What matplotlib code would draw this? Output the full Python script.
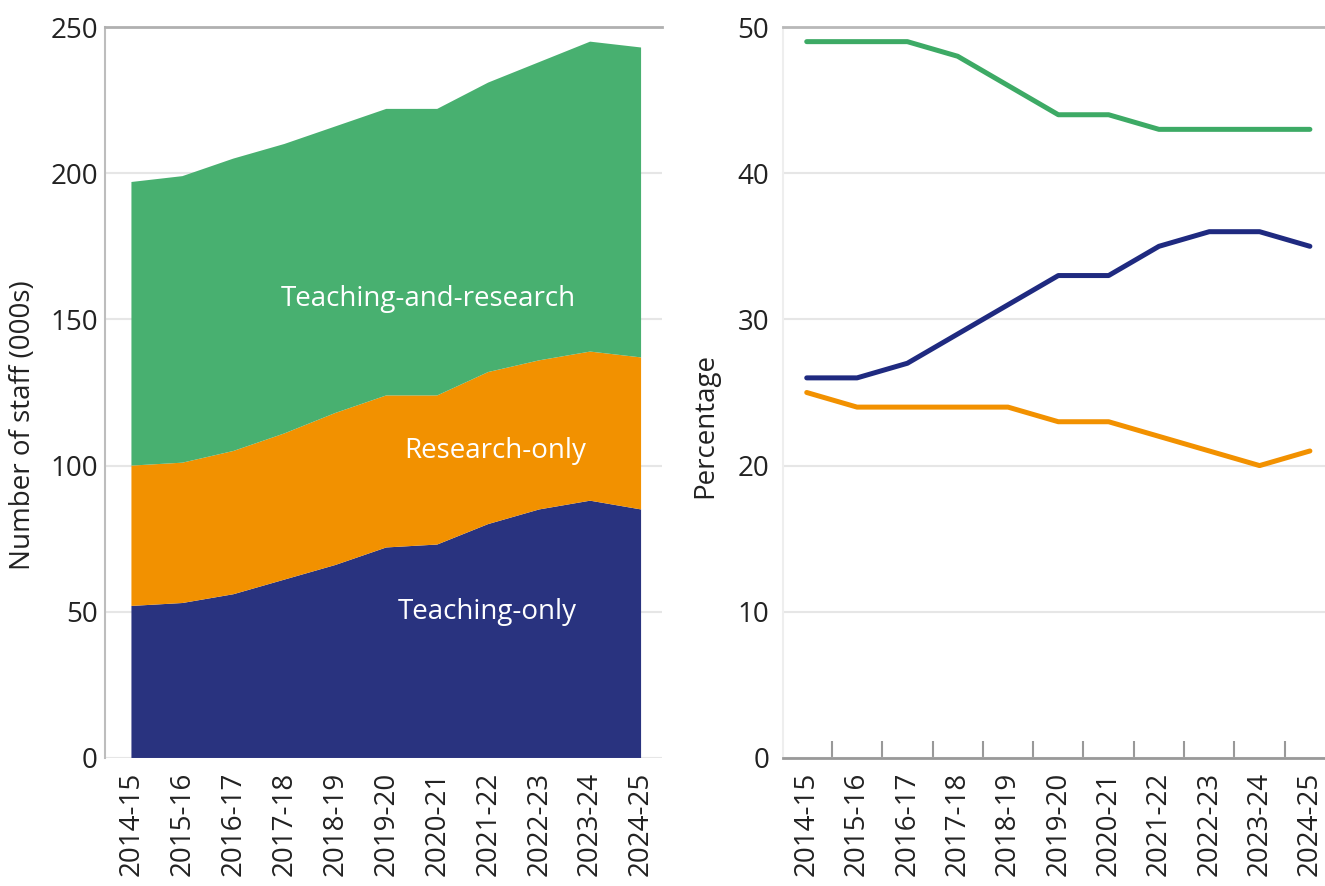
import matplotlib
matplotlib.use("Agg")
import matplotlib.pyplot as plt
import numpy as np

# years
years = ["2014-15", "2015-16", "2016-17", "2017-18", "2018-19", "2019-20",
         "2020-21", "2021-22", "2022-23", "2023-24", "2024-25"]

# number of staff (000s)
teaching_only = [52, 53, 56, 61, 66, 72, 73, 80, 85, 88, 85]
research_only = [48, 48, 49, 50, 52, 52, 51, 52, 51, 51, 52]
teaching_research = [97, 98, 100, 99, 98, 98, 98, 99, 102, 106, 106]

# percentages
pct_teaching_research = [49, 49, 49, 48, 46, 44, 44, 43, 43, 43, 43]
pct_teaching_only = [26, 26, 27, 29, 31, 33, 33, 35, 36, 36, 35]
pct_research_only = [25, 24, 24, 24, 24, 23, 23, 22, 21, 20, 21]

c_blue = "#29337f"
c_orange = "#f29100"
c_green = "#48b070"
l_blue = "#1f2a80"
l_orange = "#f29100"
l_green = "#3daa65"

plt.rcParams["font.family"] = ["Open Sans", "DejaVu Sans"]
fs = 20
txt = "#222222"

fig = plt.figure(figsize=(13.25, 8.86), dpi=100)
ax1 = fig.add_axes([0.0792, 0.1445, 0.4204, 0.825])
ax2 = fig.add_axes([0.591, 0.1445, 0.409, 0.825])

x = np.arange(len(years))

# ---- left: stacked area
ax1.stackplot(x, teaching_only, research_only, teaching_research,
              colors=[c_blue, c_orange, c_green], zorder=2, linewidth=0)
ax1.set_xlim(-0.52, 10.41)
ax1.set_ylim(0, 250)
ax1.set_yticks([0, 50, 100, 150, 200, 250])
ax1.grid(axis="y", color="#e6e6e6", linewidth=1.5, zorder=0)
ax1.set_axisbelow(True)
for s in ["right", "bottom"]:
    ax1.spines[s].set_visible(False)
ax1.spines["left"].set_color("#bdbdbd")
ax1.spines["left"].set_linewidth(1.5)
ax1.spines["top"].set_color("#b0b0b0")
ax1.spines["top"].set_linewidth(2)
ax1.set_xticks(x)
ax1.set_xticklabels(years, rotation=90)
ax1.tick_params(axis="both", length=0, labelsize=fs, labelcolor=txt)
ax1.tick_params(axis="x", pad=10)
ax1.tick_params(axis="y", pad=5)
ax1.set_ylabel("Number of staff (000s)", fontsize=fs, color=txt)
ax1.yaxis.set_label_coords(-0.122, 0.455)

ax1.text(5.82, 157, "Teaching-and-research", color="white", fontsize=fs,
         ha="center", va="center", zorder=3)
ax1.text(7.13, 105, "Research-only", color="white", fontsize=fs,
         ha="center", va="center", zorder=3)
ax1.text(6.98, 50, "Teaching-only", color="white", fontsize=fs,
         ha="center", va="center", zorder=3)

# ---- right: percentages
ax2.plot(x, pct_teaching_research, color=l_green, linewidth=3.6,
         solid_capstyle="round", zorder=3)
ax2.plot(x, pct_teaching_only, color=l_blue, linewidth=3.6,
         solid_capstyle="round", zorder=3)
ax2.plot(x, pct_research_only, color=l_orange, linewidth=3.6,
         solid_capstyle="round", zorder=3)
ax2.set_xlim(-0.47, 10.3)
ax2.set_ylim(0, 50)
ax2.set_yticks([0, 10, 20, 30, 40, 50])
ax2.grid(axis="y", color="#e6e6e6", linewidth=1.5, zorder=0)
ax2.set_axisbelow(True)
ax2.spines["right"].set_visible(False)
ax2.spines["left"].set_color("#eeeeee")
ax2.spines["left"].set_linewidth(1.5)
ax2.spines["top"].set_color("#b8b8b8")
ax2.spines["top"].set_linewidth(2)
ax2.spines["bottom"].set_color("#999999")
ax2.spines["bottom"].set_linewidth(2)
ax2.set_xticks(x)
ax2.set_xticklabels(years, rotation=90)
ax2.set_xticks(x[:-1] + 0.5, minor=True)
ax2.tick_params(axis="both", which="major", length=0, labelsize=fs,
                labelcolor=txt)
ax2.tick_params(axis="x", which="minor", direction="in", length=12,
                width=1.5, color="#999999")
ax2.tick_params(axis="x", pad=10)
ax2.tick_params(axis="y", pad=10)
ax2.set_ylabel("Percentage", fontsize=fs, color=txt)
ax2.yaxis.set_label_coords(-0.118, 0.455)

fig.savefig("out.png", dpi=100)
